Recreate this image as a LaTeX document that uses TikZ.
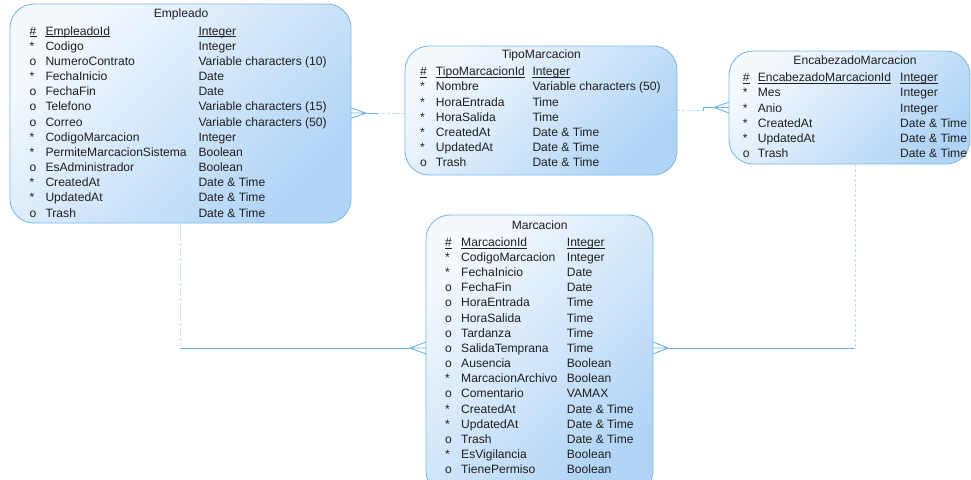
\documentclass[tikz,border=0pt]{standalone}
\usepackage{fontspec}
\setmainfont{Liberation Sans}
\definecolor{bord}{HTML}{7DBCE8}
\definecolor{fillA}{HTML}{F4F9FE}
\definecolor{fillB}{HTML}{B0D4F6}
\definecolor{lnk}{HTML}{6EB5E6}
\definecolor{lnkd}{HTML}{C4DFF3}
\definecolor{txt}{HTML}{1E1E1E}
\tikzset{
 ent/.style={draw=bord, line width=0.9pt, rounded corners=24pt, top color=fillA, bottom color=fillB, shading angle=45, anchor=north west, inner sep=0, outer sep=0},
 lbl/.style={inner sep=0, anchor=base west, text=txt, font=\fontsize{12.1}{14}\selectfont},
 ttl/.style={inner sep=0, anchor=base, text=txt, font=\fontsize{12.1}{14}\selectfont},
 rel/.style={draw=lnk, line width=0.9pt},
 reld/.style={draw=lnkd, line width=0.9pt, dash pattern=on 3pt off 2pt},
 uln/.style={draw=txt, line width=0.6pt}
}
% #1 prefix, #2 mark x, #3 name x, #4 type x, #5 first baseline, #6 key name, #7 list
\newcommand\ERrows[7]{%
 \node[lbl] (#1m0) at (#2,#5) {\#};
 \node[lbl] (#1n0) at (#3,#5) {#6};
 \node[lbl] (#1t0) at (#4,#5) {Integer};
 \foreach \nn in {#1m0,#1n0,#1t0}
   \draw[uln] ([yshift=-1.7pt]\nn.base west) -- ([yshift=-1.7pt]\nn.base east);
 \foreach \m/\n/\t [count=\i] in {#7} {
   \node[lbl] (#1m\i) at (#2,{#5+15.17*\i}) {\m};
   \node[lbl] (#1n\i) at (#3,{#5+15.17*\i}) {\n};
   \node[lbl] (#1t\i) at (#4,{#5+15.17*\i}) {\t};
 }}
\begin{document}
\begin{tikzpicture}[x=1pt,y=-1pt]
\useasboundingbox (0,0) rectangle (971,479);
\clip (0,0) rectangle (971,479);
\fill[white] (0,0) rectangle (971,479);

% entity boxes
\node[ent, minimum width=341, minimum height=219] (emp) at (10,4) {};
\node[ent, minimum width=272, minimum height=129] (tipo) at (405,46) {};
\node[ent, minimum width=241, minimum height=113] (enc) at (729,51) {};
\node[ent, minimum width=227, minimum height=280] (mar) at (426,215) {};

% titles
\node[ttl] (empT) at (181,17) {Empleado};
\node[ttl] (tipoT) at (541.3,58.8) {TipoMarcacion};
\node[ttl] (encT) at (855,64.2) {EncabezadoMarcacion};
\node[ttl] (marT) at (539.7,229.6) {Marcacion};

% rows
\ERrows{E}{29.5}{45.3}{198.3}{35}{EmpleadoId}{*/Codigo/Integer, o/NumeroContrato/Variable characters (10), */FechaInicio/Date, o/FechaFin/Date, o/Telefono/Variable characters (15), o/Correo/Variable characters (50), */CodigoMarcacion/Integer, */PermiteMarcacionSistema/Boolean, o/EsAdministrador/Boolean, */CreatedAt/Date \& Time, */UpdatedAt/Date \& Time, o/Trash/Date \& Time}
\ERrows{T}{420}{435.7}{532.3}{75.8}{TipoMarcacionId}{*/Nombre/Variable characters (50), */HoraEntrada/Time, */HoraSalida/Time, */CreatedAt/Date \& Time, */UpdatedAt/Date \& Time, o/Trash/Date \& Time}
\ERrows{H}{742.7}{757.7}{900}{81.8}{EncabezadoMarcacionId}{*/Mes/Integer, */Anio/Integer, */CreatedAt/Date \& Time, */UpdatedAt/Date \& Time, o/Trash/Date \& Time}
\ERrows{M}{445}{461}{566.7}{246.2}{MarcacionId}{*/CodigoMarcacion/Integer, */FechaInicio/Date, o/FechaFin/Date, o/HoraEntrada/Time, o/HoraSalida/Time, o/Tardanza/Time, o/SalidaTemprana/Time, o/Ausencia/Boolean, */MarcacionArchivo/Boolean, o/Comentario/VAMAX, */CreatedAt/Date \& Time, */UpdatedAt/Date \& Time, o/Trash/Date \& Time, */EsVigilancia/Boolean, o/TienePermiso/Boolean}

% connector points
\coordinate (a1) at (180,223);
\coordinate (a2) at (180,348);
\coordinate (a3) at (410,348);
\coordinate (a4) at (426,342);
\coordinate (a5) at (426,348);
\coordinate (a6) at (426,354);

\coordinate (b1) at (855,164);
\coordinate (b2) at (855,348);
\coordinate (b3) at (668,348);
\coordinate (b4) at (653,342);
\coordinate (b5) at (653,348);
\coordinate (b6) at (653,354);

\coordinate (c1) at (405,113);
\coordinate (c2) at (378,113);
\coordinate (c3) at (366,113);
\coordinate (c4) at (351,108);
\coordinate (c5) at (351,113);
\coordinate (c6) at (351,118.5);

\coordinate (d1) at (677,110.5);
\coordinate (d2) at (703,110.5);
\coordinate (d3) at (703,107.5);
\coordinate (d4) at (714,107.5);
\coordinate (d5) at (729,102);
\coordinate (d6) at (729,107.5);
\coordinate (d7) at (729,113);

% Empleado - Marcacion
\draw[reld] (a1) -- (a2);
\draw[rel] (a2) -- (a3);
\draw[rel] (a3) -- (a4) (a3) -- (a5) (a3) -- (a6);
% Encabezado - Marcacion
\draw[reld] (b1) -- (b2);
\draw[rel] (b2) -- (b3);
\draw[rel] (b3) -- (b4) (b3) -- (b5) (b3) -- (b6);
% TipoMarcacion - Empleado
\draw[reld] (c1) -- (c2);
\draw[rel] (c2) -- (c3);
\draw[rel] (c3) -- (c4) (c3) -- (c5) (c3) -- (c6);
% TipoMarcacion - Encabezado
\draw[reld] (d1) -- (d2);
\draw[rel] (d2) -- (d3) -- (d4);
\draw[rel] (d4) -- (d5) (d4) -- (d6) (d4) -- (d7);
\end{tikzpicture}
\end{document}
